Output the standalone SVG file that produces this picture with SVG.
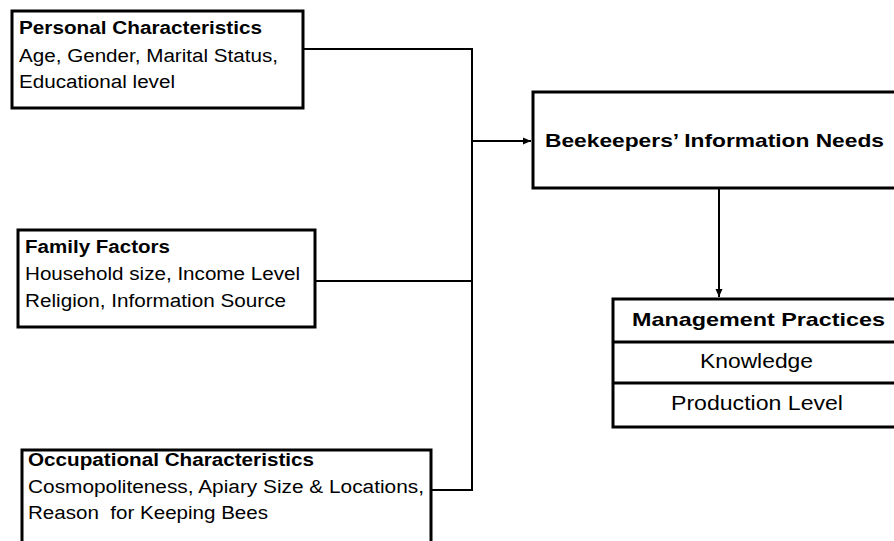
<svg xmlns="http://www.w3.org/2000/svg" width="894" height="541" viewBox="0 0 894 541">
<style>
.box{fill:#fff;stroke:#000;stroke-width:3}
.ln{fill:none;stroke:#000;stroke-width:2}
text{font-family:"Liberation Sans",Arial,sans-serif;fill:#000}
.h{font-size:17.5px;font-weight:bold}
.t{font-size:18px}
.b{font-size:18.5px;font-weight:bold}
.m{font-size:21px}
</style>
<defs>
<marker id="ah" markerWidth="8" markerHeight="8" refX="8" refY="4" orient="auto" markerUnits="userSpaceOnUse">
<path d="M0,0.5 L8,4 L0,7.5 Z" fill="#000"/>
</marker>
</defs>
<rect width="894" height="541" fill="#fff"/>
<g id="connectors">
<path class="ln" d="M303,49 H472 V490 H431"/>
<path class="ln" d="M316,281 H472"/>
<path class="ln" d="M472,141 H531" marker-end="url(#ah)"/>
<path class="ln" d="M719,188 V297" marker-end="url(#ah)"/>
</g>
<g id="personal">
<rect class="box" x="12" y="11" width="291" height="97"/>
<text class="h" x="19" y="34" textLength="243" lengthAdjust="spacingAndGlyphs">Personal Characteristics</text>
<text class="t" x="19" y="62" textLength="259" lengthAdjust="spacingAndGlyphs">Age, Gender, Marital Status,</text>
<text class="t" x="19" y="88" textLength="156" lengthAdjust="spacingAndGlyphs">Educational level</text>
</g>
<g id="family">
<rect class="box" x="18" y="230" width="297" height="97"/>
<text class="h" x="25" y="253" textLength="145" lengthAdjust="spacingAndGlyphs">Family Factors</text>
<text class="t" x="25" y="280" textLength="275" lengthAdjust="spacingAndGlyphs">Household size, Income Level</text>
<text class="t" x="25" y="307" textLength="261" lengthAdjust="spacingAndGlyphs">Religion, Information Source</text>
</g>
<g id="occupational">
<rect class="box" x="22" y="450" width="409" height="110"/>
<text class="h" x="28" y="466" textLength="286" lengthAdjust="spacingAndGlyphs">Occupational Characteristics</text>
<text class="t" x="28" y="493" textLength="396" lengthAdjust="spacingAndGlyphs">Cosmopoliteness, Apiary Size &amp; Locations,</text>
<text class="t" x="28" y="519" xml:space="preserve" textLength="240" lengthAdjust="spacingAndGlyphs">Reason  for Keeping Bees</text>
</g>
<g id="needs">
<rect class="box" x="533" y="92" width="380" height="96"/>
<text class="b" x="545" y="147" textLength="339" lengthAdjust="spacingAndGlyphs">Beekeepers’ Information Needs</text>
</g>
<g id="management">
<rect class="box" x="613" y="299" width="300" height="128"/>
<line class="box" x1="613" y1="342" x2="913" y2="342"/>
<line class="box" x1="613" y1="383" x2="913" y2="383"/>
<text class="b" x="632" y="326" textLength="253" lengthAdjust="spacingAndGlyphs">Management Practices</text>
<text class="m" x="700" y="368" textLength="113" lengthAdjust="spacingAndGlyphs">Knowledge</text>
<text class="m" x="671" y="410" textLength="172" lengthAdjust="spacingAndGlyphs">Production Level</text>
</g>
</svg>
